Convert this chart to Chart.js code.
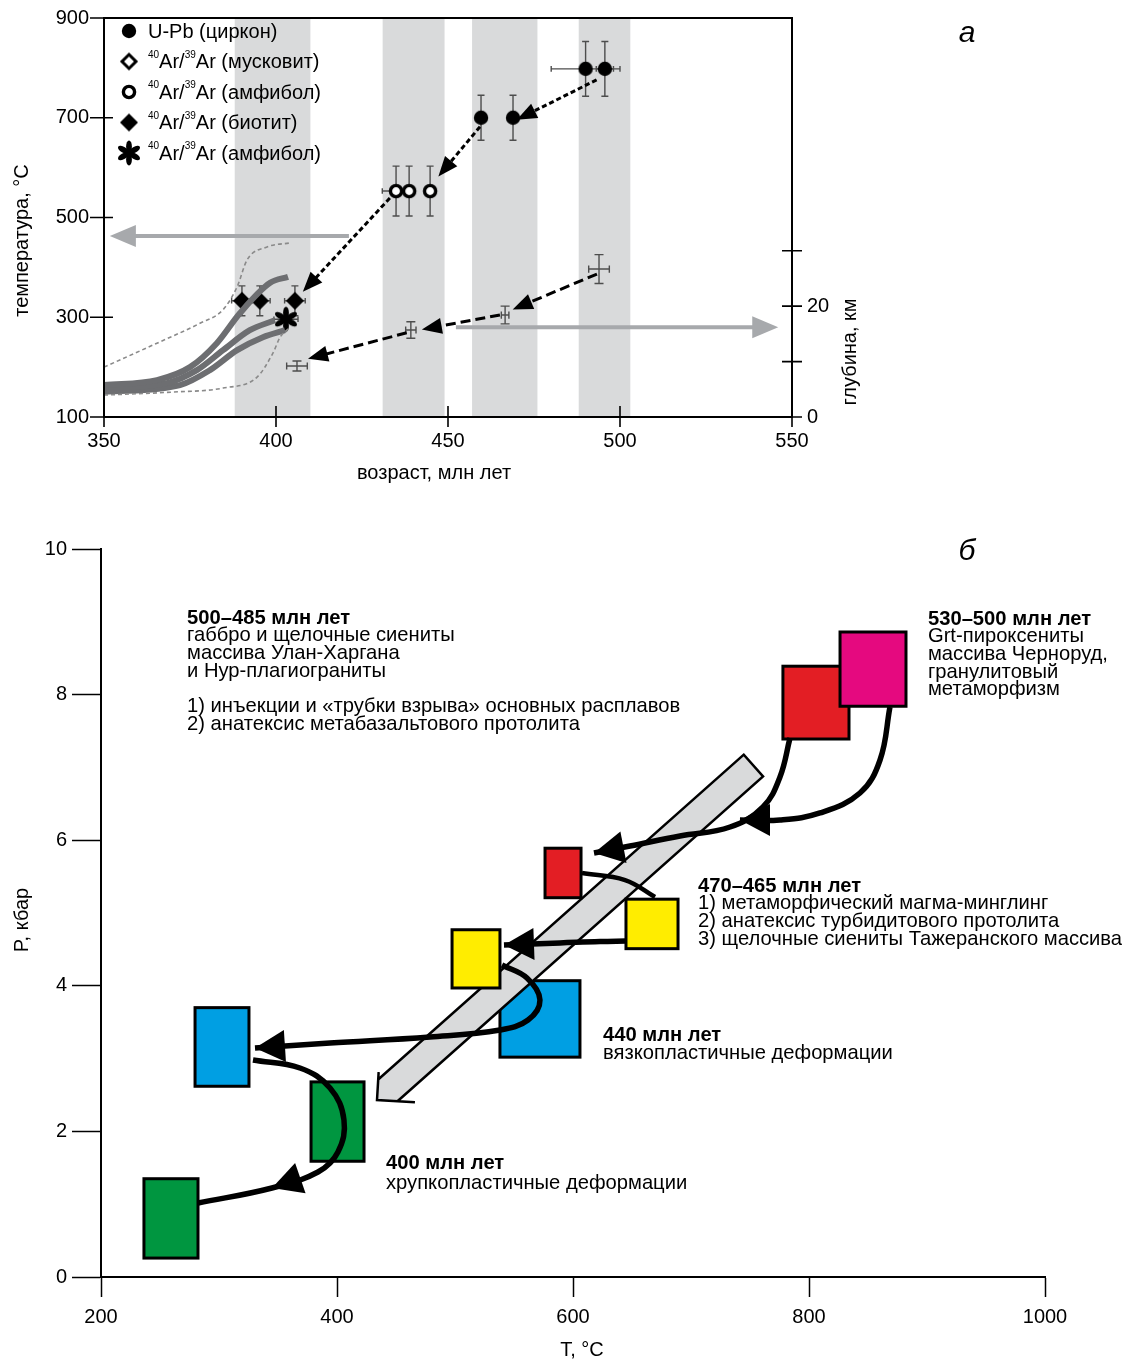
<!DOCTYPE html>
<html>
<head>
<meta charset="utf-8">
<script src="https://cdn.jsdelivr.net/npm/chart.js@4.4.1/dist/chart.umd.min.js"></script>
<style>
  body { margin: 0; background: #fff; }
  #wrapA { position: absolute; left: 0; top: -9px; }
  #wrapB { position: absolute; left: 0; top: 500px; }
</style>
</head>
<body>
<div id="wrapA"><canvas id="chartA" width="1128" height="509"></canvas></div>
<div id="wrapB"><canvas id="chartB" width="1128" height="860"></canvas></div>
<script>
const FONT = '"Liberation Sans", Arial, sans-serif';

// ---------- panel a: age / temperature / depth ----------
const ageBands = [[388, 410], [431, 449], [457, 476], [488, 503]];

const zirconAge = [490, 495.6, 459.6, 468.9];
const zirconT = [798, 798, 700, 700];
const zirconAgeErr = [10, 2.5, 0, 0];
const zirconTErr = [55, 55, 45, 45];

const amphAge = [434.9, 438.7, 444.8];
const amphT = [553, 553, 553];
const amphAgeErr = [4, 0, 0];
const amphTErr = [50, 50, 50];

const biotAge = [390.1, 395.3, 405.5];
const biotT = [333, 333, 333];
const biotAgeErr = [3, 3, 3];
const biotTErr = [30, 30, 30];

const amph2Age = [402.9];
const amph2T = [296];
const amph2AgeErr = [3.5];
const amph2TErr = [0];

const depthAge = [493.9, 466.6, 439.2, 406.1];
const depthKm = [26.7, 18.4, 15.7, 9.2];
const depthAgeErr = [3, 1.1, 1.5, 3];
const depthKmErr = [2.6, 1.6, 1.5, 0.9];

const cool1Age = [350, 365.4, 375, 382.8, 389.5, 398.3, 403.5];
const cool1T = [164, 174, 200, 248, 308, 369, 381];
const cool2Age = [350, 368.3, 377, 384.6, 392.4, 399.7];
const cool2T = [158, 168, 194, 234, 274, 294];
const cool3Age = [350, 372.1, 380.8, 388.7, 396.2, 402.6];
const cool3T = [150, 164, 194, 234, 260, 274];

const envUpAge = [350, 365.4, 377.9, 384.6, 388.7, 391.6, 397.4, 404.1];
const envUpT = [200, 248, 288, 315, 361, 415, 441, 449];
const envLoAge = [350, 370, 384.6, 394.5, 399.1, 401.2, 404.1];
const envLoT = [144, 150, 158, 180, 228, 260, 280];

// dashed arrows [fromAge, fromVal, toAge, toVal]
const tempArrows = [[493.2, 776, 470.0, 696], [459.3, 682, 447.2, 582], [433.1, 539, 407.8, 351]];
const depthArrows = [[493.3, 25.8, 468.8, 19.4], [465.1, 18.4, 442.4, 15.8], [438.0, 15.2, 409.3, 10.5]];
const grayArrowT = [421.2, 463, 351.7, 463];
const grayArrowKm = [452.3, 16.2, 546, 16.2];

const tempTicks = [100, 300, 500, 700, 900];
const ageTicks = [350, 400, 450, 500, 550];
const depthTicks = [0, 10, 20, 30];

// ---------- panel b: T / P ----------
const rectTmin = [236.4, 378, 279.7, 538.1, 497.5, 644.9, 576.3, 777.9, 826.3];
const rectTmax = [282.2, 422.9, 325.4, 605.9, 538.1, 689, 606.8, 833.9, 882.2];
const rectPmin = [0.26, 1.59, 2.62, 3.02, 3.97, 4.51, 5.21, 7.39, 7.84];
const rectPmax = [1.35, 2.68, 3.70, 4.07, 4.77, 5.19, 5.89, 8.39, 8.86];
const rectColors = ['#009640', '#009640', '#009fe3', '#009fe3', '#ffed00', '#ffed00', '#e31e24', '#e31e24', '#e5097f'];

const bandStart = [752.9, 7.026];
const bandTip = [433.9, 2.431];

const path1 = [[868.6, 7.83], [860.2, 7.102], [843.2, 6.648], [809.3, 6.374], [775.4, 6.277], [741.5, 6.277]];
const path2 = [[783.9, 7.404], [775.4, 6.868], [761.0, 6.456], [733.1, 6.181], [690.7, 6.058], [648.3, 5.92], [617.8, 5.824]];
const path3 = [[607.6, 5.549], [644.1, 5.453], [669.5, 5.22]];
const path4 = [[644.9, 4.615], [622.9, 4.609], [589.0, 4.588], [541.5, 4.56]];
const path5 = [[539.8, 4.286], [561.0, 4.107], [572.0, 3.805], [561.9, 3.53], [538.1, 3.393], [478.8, 3.297], [394.1, 3.214], [330.5, 3.146]];
const path6 = [[328.8, 2.981], [368.6, 2.871], [394.1, 2.596], [405.9, 2.157], [400.8, 1.717], [383.9, 1.442], [344.9, 1.223], [282.2, 1.016]];
const headsB = [[path1, 5], [path2, 6], [path4, 3], [path5, 7], [path6, 6]];

const notes = [
  { t: 272.9, p: 9.052, gap: 17.7, lines: ['500–485 млн лет', 'габбро и щелочные сиениты', 'массива Улан-Харгана', 'и Нур-плагиограниты', '', '1) инъекции и «трубки взрыва» основных расплавов', '2) анатексис метабазальтового протолита'] },
  { t: 900.8, p: 9.038, gap: 17.7, lines: ['530–500 млн лет', 'Grt-пироксениты', 'массива Черноруд,', 'гранулитовый', 'метаморфизм'] },
  { t: 705.9, p: 5.371, gap: 17.7, lines: ['470–465 млн лет', '1) метаморфический магма-минглинг', '2) анатексис турбидитового протолита', '3) щелочные сиениты Тажеранского массива'] },
  { t: 625.4, p: 3.324, gap: 18, lines: ['440 млн лет', 'вязкопластичные деформации'] },
  { t: 441.5, p: 1.566, gap: 20, lines: ['400 млн лет', 'хрупкопластичные деформации'] }
];

// ---------- markers ----------
function mk(size, draw) {
  const c = document.createElement('canvas');
  c.width = c.height = size;
  const g = c.getContext('2d');
  g.translate(size / 2, size / 2);
  draw(g);
  return c;
}
const mDot = mk(18, g => { g.fillStyle = '#000'; g.beginPath(); g.arc(0, 0, 7.2, 0, 2 * Math.PI); g.fill(); });
const mRing = mk(18, g => { g.fillStyle = '#fff'; g.strokeStyle = '#000'; g.lineWidth = 3.4; g.beginPath(); g.arc(0, 0, 5.6, 0, 2 * Math.PI); g.fill(); g.stroke(); });
const mDiamond = mk(22, g => { g.fillStyle = '#000'; g.beginPath(); g.moveTo(0, -9); g.lineTo(9, 0); g.lineTo(0, 9); g.lineTo(-9, 0); g.closePath(); g.fill(); });
const mODiamond = mk(22, g => { g.strokeStyle = '#000'; g.lineWidth = 3; g.beginPath(); g.moveTo(0, -7); g.lineTo(7, 0); g.lineTo(0, 7); g.lineTo(-7, 0); g.closePath(); g.stroke(); });
const mStar = mk(30, g => {
  g.fillStyle = '#000';
  for (let k = 0; k < 6; k++) {
    g.save(); g.rotate(k * Math.PI / 3);
    g.beginPath(); g.ellipse(0, -6.5, 2.9, 6, 0, 0, 2 * Math.PI); g.fill();
    g.restore();
  }
  g.beginPath(); g.arc(0, 0, 2.6, 0, 2 * Math.PI); g.fill();
});

function pts(xs, ys) { return xs.map((v, i) => ({ x: v, y: ys[i] })); }

function head(ctx, x1, y1, x2, y2, len, half) {
  const a = Math.atan2(y2 - y1, x2 - x1);
  const c = Math.cos(a), s = Math.sin(a);
  ctx.beginPath();
  ctx.moveTo(x2, y2);
  ctx.lineTo(x2 - len * c + half * s, y2 - len * s - half * c);
  ctx.lineTo(x2 - len * c - half * s, y2 - len * s + half * c);
  ctx.closePath();
  ctx.fill();
}

function arrow(ctx, x1, y1, x2, y2, len, half, dash) {
  const a = Math.atan2(y2 - y1, x2 - x1);
  ctx.setLineDash(dash || []);
  ctx.beginPath();
  ctx.moveTo(x1, y1);
  ctx.lineTo(x2 - len * 0.7 * Math.cos(a), y2 - len * 0.7 * Math.sin(a));
  ctx.stroke();
  ctx.setLineDash([]);
  head(ctx, x1, y1, x2, y2, len, half);
}

function supText(ctx, x, y, parts, size) {
  // parts: [text, isSup]
  let cx = x;
  parts.forEach(([t, sup]) => {
    ctx.font = (sup ? size * 0.5 : size) + 'px ' + FONT;
    ctx.fillText(t, cx, sup ? y - size * 0.38 : y);
    cx += ctx.measureText(t).width;
  });
}

const errSets = [
  { age: zirconAge, val: zirconT, ea: zirconAgeErr, ev: zirconTErr, axis: 'y', cap: 3.5 },
  { age: amphAge, val: amphT, ea: amphAgeErr, ev: amphTErr, axis: 'y', cap: 3.5 },
  { age: biotAge, val: biotT, ea: biotAgeErr, ev: biotTErr, axis: 'y', cap: 3.5 },
  { age: amph2Age, val: amph2T, ea: amph2AgeErr, ev: amph2TErr, axis: 'y', cap: 3.5 },
  { age: depthAge, val: depthKm, ea: depthAgeErr, ev: depthKmErr, axis: 'y2', cap: 4.5 }
];

const legendRows = [
  { m: mDot, parts: [['U-Pb (циркон)', false]] },
  { m: mODiamond, parts: [['40', true], ['Ar/', false], ['39', true], ['Ar (мусковит)', false]] },
  { m: mRing, parts: [['40', true], ['Ar/', false], ['39', true], ['Ar (амфибол)', false]] },
  { m: mDiamond, parts: [['40', true], ['Ar/', false], ['39', true], ['Ar (биотит)', false]] },
  { m: mStar, parts: [['40', true], ['Ar/', false], ['39', true], ['Ar (амфибол)', false]] }
];

const panelA = {
  id: 'panelA',
  beforeDatasetsDraw(chart) {
    const { ctx, chartArea: a, scales: { x, y, y2 } } = chart;
    ctx.save();
    ctx.fillStyle = '#d9dadb';
    ageBands.forEach(([b0, b1]) => {
      const x0 = x.getPixelForValue(b0), x1 = x.getPixelForValue(b1);
      ctx.fillRect(x0, a.top + 1, x1 - x0, a.bottom - a.top - 2);
    });
    // gray arrows
    ctx.strokeStyle = '#a7a9ac'; ctx.fillStyle = '#a7a9ac'; ctx.lineWidth = 4;
    arrow(ctx, x.getPixelForValue(grayArrowT[0]), y.getPixelForValue(grayArrowT[1]),
      x.getPixelForValue(grayArrowT[2]), y.getPixelForValue(grayArrowT[3]), 26, 11);
    arrow(ctx, x.getPixelForValue(grayArrowKm[0]), y2.getPixelForValue(grayArrowKm[1]),
      x.getPixelForValue(grayArrowKm[2]), y2.getPixelForValue(grayArrowKm[3]), 26, 11);
    // error bars
    ctx.strokeStyle = '#4d4d4d'; ctx.lineWidth = 1.4;
    errSets.forEach(s => {
      const ys = chart.scales[s.axis];
      s.age.forEach((ag, i) => {
        const px = x.getPixelForValue(ag), py = ys.getPixelForValue(s.val[i]);
        ctx.beginPath();
        if (s.ev[i]) {
          const t = ys.getPixelForValue(s.val[i] + s.ev[i]), b = ys.getPixelForValue(s.val[i] - s.ev[i]);
          ctx.moveTo(px, t); ctx.lineTo(px, b);
          ctx.moveTo(px - s.cap, t); ctx.lineTo(px + s.cap, t);
          ctx.moveTo(px - s.cap, b); ctx.lineTo(px + s.cap, b);
        }
        if (s.ea[i]) {
          const l = x.getPixelForValue(ag - s.ea[i]), r = x.getPixelForValue(ag + s.ea[i]);
          ctx.moveTo(l, py); ctx.lineTo(r, py);
          ctx.moveTo(l, py - s.cap * 0.8); ctx.lineTo(l, py + s.cap * 0.8);
          ctx.moveTo(r, py - s.cap * 0.8); ctx.lineTo(r, py + s.cap * 0.8);
        }
        ctx.stroke();
      });
    });
    ctx.restore();
  },
  afterDatasetsDraw(chart) {
    const { ctx, scales: { x, y, y2 } } = chart;
    ctx.save();
    ctx.strokeStyle = '#000'; ctx.fillStyle = '#000'; ctx.lineWidth = 3;
    tempArrows.forEach(([a0, v0, a1, v1]) => {
      arrow(ctx, x.getPixelForValue(a0), y.getPixelForValue(v0), x.getPixelForValue(a1), y.getPixelForValue(v1), 20, 8, [5, 3]);
    });
    depthArrows.forEach(([a0, v0, a1, v1]) => {
      arrow(ctx, x.getPixelForValue(a0), y2.getPixelForValue(v0), x.getPixelForValue(a1), y2.getPixelForValue(v1), 20, 8, [10, 5]);
    });
    ctx.restore();
  },
  afterDraw(chart) {
    const { ctx, chartArea: a, scales: { x, y, y2 } } = chart;
    ctx.save();
    ctx.strokeStyle = '#000';
    ctx.lineWidth = 2;
    ctx.strokeRect(a.left, a.top, a.right - a.left, a.bottom - a.top);
    ctx.lineWidth = 1.6;
    ctx.beginPath();
    tempTicks.forEach(v => { const p = y.getPixelForValue(v); ctx.moveTo(a.left - 14, p); ctx.lineTo(a.left + 9, p); });
    ageTicks.forEach(v => { const p = x.getPixelForValue(v); ctx.moveTo(p, a.bottom - 11); ctx.lineTo(p, a.bottom + 10); });
    depthTicks.forEach(v => { const p = y2.getPixelForValue(v); ctx.moveTo(a.right - 10, p); ctx.lineTo(a.right + 10, p); });
    ctx.stroke();

    // legend
    ctx.fillStyle = '#000';
    ctx.textBaseline = 'middle';
    ctx.textAlign = 'left';
    legendRows.forEach((r, i) => {
      const cy = a.top + 13 + i * 30.5;
      ctx.drawImage(r.m, a.left + 25 - r.m.width / 2, cy - r.m.height / 2);
      supText(ctx, a.left + 44, cy + 1, r.parts, 20);
    });

    // axis titles
    ctx.font = '20px ' + FONT;
    ctx.textAlign = 'center';
    ctx.fillText('возраст, млн лет', (a.left + a.right) / 2 - 14, a.bottom + 56);
    ctx.save();
    ctx.translate(a.left - 82, (a.top + a.bottom) / 2 + 23);
    ctx.rotate(-Math.PI / 2);
    ctx.fillText('температура, °С', 0, 0);
    ctx.restore();
    ctx.save();
    ctx.translate(a.right + 58, a.bottom - 65);
    ctx.rotate(-Math.PI / 2);
    ctx.fillText('глубина, км', 0, 0);
    ctx.restore();
    ctx.font = 'italic 30px ' + FONT;
    ctx.fillText('а', a.right + 175, a.top + 16);
    ctx.restore();
  }
};

const lineDs = (xs, ys, color, width, dash) => ({
  data: pts(xs, ys), showLine: true, pointRadius: 0, borderColor: color, borderWidth: width,
  borderDash: dash || [], cubicInterpolationMode: 'monotone', fill: false
});
const pointDs = (xs, ys, m) => ({ data: pts(xs, ys), showLine: false, pointStyle: m, pointRadius: 6 });

const tickFont = { family: FONT, size: 20 };

new Chart(document.getElementById('chartA'), {
  type: 'scatter',
  data: {
    datasets: [
      lineDs(envUpAge, envUpT, '#8a8a8a', 1.6, [4, 3]),
      lineDs(envLoAge, envLoT, '#8a8a8a', 1.6, [4, 3]),
      lineDs(cool1Age, cool1T, '#6d6e71', 6),
      lineDs(cool2Age, cool2T, '#6d6e71', 6),
      lineDs(cool3Age, cool3T, '#6d6e71', 6),
      pointDs(zirconAge, zirconT, mDot),
      pointDs(amphAge, amphT, mRing),
      pointDs(biotAge, biotT, mDiamond),
      pointDs(amph2Age, amph2T, mStar)
    ]
  },
  options: {
    responsive: false, animation: false, events: [],
    layout: { padding: { top: 18, left: 0, right: 0, bottom: 0 } },
    plugins: { legend: { display: false }, tooltip: { enabled: false } },
    scales: {
      x: {
        type: 'linear', min: 350, max: 550,
        ticks: { stepSize: 50, color: '#000', font: tickFont, padding: 12, maxRotation: 0 },
        grid: { drawOnChartArea: false, drawTicks: false },
        border: { display: true, color: '#000', width: 2 },
        afterFit: s => { s.height = 83; }
      },
      y: {
        type: 'linear', min: 100, max: 900,
        ticks: { stepSize: 200, color: '#000', font: tickFont, padding: 15 },
        grid: { drawOnChartArea: false, drawTicks: false },
        border: { display: true, color: '#000', width: 2 },
        afterFit: s => { s.width = 104; }
      },
      y2: {
        type: 'linear', position: 'right', min: 0, max: 72,
        afterBuildTicks: s => { s.ticks = depthTicks.map(v => ({ value: v })); },
        ticks: { color: '#000', font: tickFont, padding: 15, callback: v => (v % 20 === 0 ? String(v) : '') },
        grid: { drawOnChartArea: false, drawTicks: false },
        border: { display: true, color: '#000', width: 2 },
        afterFit: s => { s.width = 336; }
      }
    }
  },
  plugins: [panelA]
});

// ---------- panel b ----------
function drawRect(chart, i) {
  const { ctx, scales: { x, y } } = chart;
  const x0 = x.getPixelForValue(rectTmin[i]), x1 = x.getPixelForValue(rectTmax[i]);
  const y0 = y.getPixelForValue(rectPmax[i]), y1 = y.getPixelForValue(rectPmin[i]);
  ctx.fillStyle = rectColors[i];
  ctx.fillRect(x0, y0, x1 - x0, y1 - y0);
  ctx.strokeStyle = '#000';
  ctx.lineWidth = 3;
  ctx.strokeRect(x0, y0, x1 - x0, y1 - y0);
}

function drawBand(chart) {
  const { ctx, scales: { x, y } } = chart;
  const U = [x.getPixelForValue(bandStart[0]), y.getPixelForValue(bandStart[1])];
  const T = [x.getPixelForValue(bandTip[0]), y.getPixelForValue(bandTip[1])];
  const dx = T[0] - U[0], dy = T[1] - U[1], L = Math.hypot(dx, dy);
  const u = [dx / L, dy / L], n = [-u[1], u[0]];
  const w = 14.5;
  const norm = v => { const l = Math.hypot(v[0], v[1]); return [v[0] / l, v[1] / l]; };
  const d1 = norm([-u[0] + n[0], -u[1] + n[1]]);
  const d2 = norm([-u[0] - n[0], -u[1] - n[1]]);
  const j = w * Math.SQRT2;
  const P = [
    [U[0] + n[0] * w, U[1] + n[1] * w],
    [T[0] + d1[0] * j, T[1] + d1[1] * j],
    [T[0] + d1[0] * 28, T[1] + d1[1] * 28],
    T,
    [T[0] + d2[0] * 38, T[1] + d2[1] * 38],
    [T[0] + d2[0] * j, T[1] + d2[1] * j],
    [U[0] - n[0] * w, U[1] - n[1] * w]
  ];
  ctx.beginPath();
  ctx.moveTo(P[0][0], P[0][1]);
  P.slice(1).forEach(p => ctx.lineTo(p[0], p[1]));
  ctx.closePath();
  ctx.fillStyle = '#d9dadb';
  ctx.fill();
  ctx.strokeStyle = '#000';
  ctx.lineWidth = 2.5;
  ctx.lineJoin = 'miter';
  ctx.stroke();
}

const panelB = {
  id: 'panelB',
  beforeDatasetsDraw(chart) {
    const ctx = chart.ctx;
    ctx.save();
    [0, 1, 2, 3].forEach(i => drawRect(chart, i));
    drawBand(chart);
    [4, 5, 6, 7, 8].forEach(i => drawRect(chart, i));
    ctx.restore();
  },
  afterDatasetsDraw(chart) {
    const { ctx, scales: { x, y } } = chart;
    ctx.save();
    ctx.fillStyle = '#000';
    headsB.forEach(([p, i]) => {
      head(ctx, x.getPixelForValue(p[i - 1][0]), y.getPixelForValue(p[i - 1][1]),
        x.getPixelForValue(p[i][0]), y.getPixelForValue(p[i][1]), 30, 16);
    });
    ctx.restore();
  },
  afterDraw(chart) {
    const { ctx, chartArea: a, scales: { x, y } } = chart;
    ctx.save();
    ctx.fillStyle = '#000';
    ctx.textBaseline = 'middle';
    ctx.textAlign = 'left';
    notes.forEach(nb => {
      const px = x.getPixelForValue(nb.t), py = y.getPixelForValue(nb.p);
      nb.lines.forEach((ln, k) => {
        ctx.font = (k === 0 ? 'bold ' : '') + '20.2px ' + FONT;
        ctx.fillText(ln, px, py + k * nb.gap);
      });
    });
    ctx.font = '20px ' + FONT;
    ctx.textAlign = 'center';
    ctx.fillText('T, °С', (a.left + a.right) / 2 + 9, a.bottom + 73);
    ctx.save();
    ctx.translate(22, (a.top + a.bottom) / 2 + 7);
    ctx.rotate(-Math.PI / 2);
    ctx.fillText('P, кбар', 0, 0);
    ctx.restore();
    ctx.font = 'italic 30px ' + FONT;
    ctx.fillText('б', 967, a.top + 3);
    ctx.restore();
  }
};

const curveDs = (p, width) => ({
  data: p.map(([t, v]) => ({ x: t, y: v })), showLine: true, pointRadius: 0,
  borderColor: '#000', borderWidth: width, tension: 0.4, fill: false
});

new Chart(document.getElementById('chartB'), {
  type: 'scatter',
  data: {
    datasets: [
      curveDs(path1, 5.5), curveDs(path2, 5.5), curveDs(path3, 4.5),
      curveDs(path4, 5.5), curveDs(path5, 5.5), curveDs(path6, 5.5)
    ]
  },
  options: {
    responsive: false, animation: false, events: [],
    layout: { padding: { top: 49, left: 0, right: 83, bottom: 0 } },
    plugins: { legend: { display: false }, tooltip: { enabled: false } },
    scales: {
      x: {
        type: 'linear', min: 200, max: 1000,
        ticks: { stepSize: 200, color: '#000', font: tickFont, padding: 8, maxRotation: 0, callback: v => String(v) },
        grid: { drawOnChartArea: false, drawTicks: true, tickLength: 20, tickColor: '#000', tickWidth: 1.5 },
        border: { display: true, color: '#000', width: 2 },
        afterFit: s => { s.height = 83; }
      },
      y: {
        type: 'linear', min: 0, max: 10,
        ticks: { stepSize: 2, color: '#000', font: tickFont, padding: 5, callback: v => String(v) },
        grid: { drawOnChartArea: false, drawTicks: true, tickLength: 29, tickColor: '#000', tickWidth: 1.5 },
        border: { display: true, color: '#000', width: 2 },
        afterFit: s => { s.width = 101; }
      }
    }
  },
  plugins: [panelB]
});
</script>
</body>
</html>
